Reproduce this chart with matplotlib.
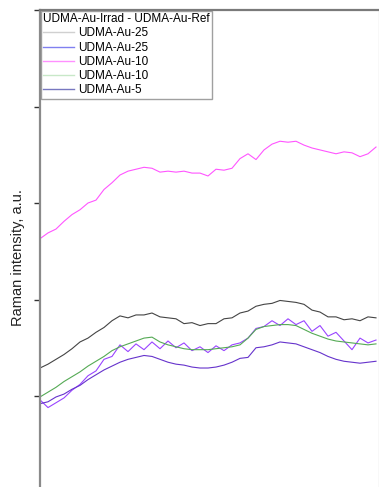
import numpy as np
import matplotlib
matplotlib.use("Agg")
import matplotlib.pyplot as plt
from matplotlib.lines import Line2D

plt.rcParams['font.family'] = ['Liberation Sans', 'DejaVu Sans']

# Raman shift (arbitrary, only the visible window) and difference spectra
shift = np.arange(0, 344, 8)

au25_grey = [0.29, 0.33, 0.38, 0.43, 0.49, 0.56, 0.60, 0.66, 0.71, 0.78,
             0.83, 0.81, 0.84, 0.84, 0.86, 0.82, 0.81, 0.80, 0.75, 0.76,
             0.73, 0.75, 0.75, 0.80, 0.81, 0.86, 0.88, 0.93, 0.95, 0.96,
             0.99, 0.98, 0.97, 0.95, 0.89, 0.87, 0.82, 0.82, 0.79, 0.80,
             0.78, 0.82, 0.81]
au25_blue = [-0.04, -0.12, -0.07, -0.02, 0.06, 0.12, 0.21, 0.26, 0.38, 0.41,
             0.53, 0.46, 0.54, 0.48, 0.56, 0.49, 0.57, 0.50, 0.55, 0.47,
             0.51, 0.45, 0.52, 0.47, 0.53, 0.55, 0.60, 0.70, 0.72, 0.78,
             0.73, 0.80, 0.74, 0.78, 0.67, 0.73, 0.62, 0.66, 0.57, 0.48,
             0.60, 0.55, 0.58]
au10_magenta = [1.63, 1.69, 1.73, 1.81, 1.88, 1.93, 2.00, 2.03, 2.14, 2.21,
                2.29, 2.33, 2.35, 2.37, 2.36, 2.32, 2.33, 2.32, 2.33, 2.31,
                2.31, 2.28, 2.35, 2.34, 2.36, 2.46, 2.51, 2.45, 2.55, 2.61,
                2.64, 2.63, 2.64, 2.60, 2.57, 2.55, 2.53, 2.51, 2.53, 2.52,
                2.48, 2.51, 2.58]
au10_green = [-0.01, 0.04, 0.09, 0.15, 0.20, 0.25, 0.31, 0.36, 0.41, 0.47,
              0.51, 0.54, 0.57, 0.60, 0.61, 0.56, 0.53, 0.51, 0.49, 0.48,
              0.48, 0.48, 0.49, 0.50, 0.51, 0.53, 0.60, 0.69, 0.72, 0.73,
              0.74, 0.74, 0.73, 0.69, 0.65, 0.62, 0.59, 0.57, 0.56, 0.55,
              0.54, 0.53, 0.54]
au5_purple = [-0.08, -0.06, -0.01, 0.02, 0.07, 0.11, 0.17, 0.22, 0.27, 0.31,
              0.35, 0.38, 0.40, 0.42, 0.41, 0.38, 0.35, 0.33, 0.32, 0.30,
              0.29, 0.29, 0.30, 0.32, 0.35, 0.39, 0.40, 0.50, 0.51, 0.53,
              0.56, 0.55, 0.54, 0.51, 0.48, 0.45, 0.41, 0.38, 0.36, 0.35,
              0.34, 0.35, 0.36]

series = [
    ("UDMA-Au-25", au25_grey, "#444444", "#d0d0d0"),
    ("UDMA-Au-25", au25_blue, "#9944ff", "#8080f0"),
    ("UDMA-Au-10", au10_magenta, "#ff55ff", "#ff90ff"),
    ("UDMA-Au-10", au10_green, "#55aa55", "#c8e8c8"),
    ("UDMA-Au-5", au5_purple, "#6633cc", "#7878c0"),
]

fig = plt.figure(figsize=(3.79, 4.87), dpi=100)
ax = fig.add_axes([40 / 379, 0.0, 1 - 40 / 379, 1 - 10 / 487])

handles = []
for label, y, col, lcol in series:
    ax.plot(shift, y, color=col, lw=0.8)
    handles.append(Line2D([], [], color=lcol, lw=1.0, label=label))

ax.set_xlim(0, 339)
ax.set_ylim(-0.943, 4.0)
ax.set_yticks([0, 1, 2, 3, 4])
ax.set_yticklabels([])
ax.set_xticks([])
ax.tick_params(axis='y', direction='out', length=4, width=1, color='#333333')

ax.spines['bottom'].set_visible(False)
ax.spines['left'].set_color('#8a8a8a')
ax.spines['left'].set_linewidth(1.6)
ax.spines['top'].set_color('#7a7a7a')
ax.spines['top'].set_linewidth(1.6)
ax.spines['right'].set_color('#e0e0e0')
ax.spines['right'].set_linewidth(1.0)

leg = ax.legend(handles=handles, title="UDMA-Au-Irrad - UDMA-Au-Ref",
                loc='upper left', bbox_to_anchor=(0, 1), borderaxespad=0.05,
                fontsize=8.5, title_fontsize=8.5, frameon=True, fancybox=False,
                handlelength=2.6, handletextpad=0.35, labelspacing=0.19,
                borderpad=0.22)
leg.get_frame().set_edgecolor('#888888')
leg.get_frame().set_linewidth(1.0)
leg._legend_box.align = "left"

fig.text(18 / 379, 1 - 258 / 487, "Raman intensity, a.u.", rotation=90,
         ha='center', va='center', fontsize=10.5, color='#222222')

fig.savefig("out.png", dpi=100)
